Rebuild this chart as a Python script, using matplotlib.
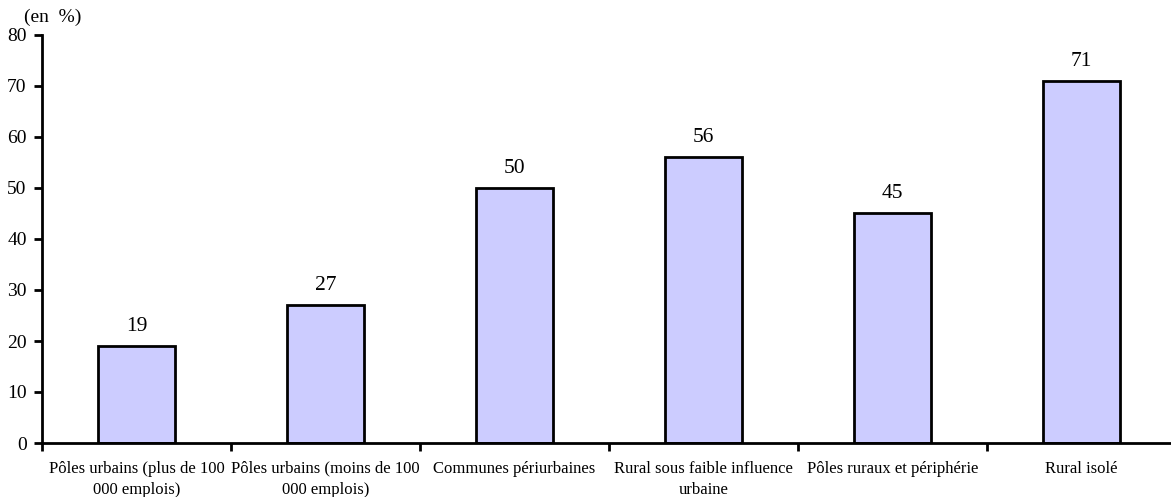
import numpy as np
import matplotlib.pyplot as plt

categories = [
    "Pôles urbains (plus de 100\n000 emplois)",
    "Pôles urbains (moins de 100\n000 emplois)",
    "Communes périurbaines",
    "Rural sous faible influence\nurbaine",
    "Pôles ruraux et périphérie",
    "Rural isolé",
]
values = [19, 27, 50, 56, 45, 71]

plt.rcParams["font.family"] = ["Liberation Serif", "DejaVu Serif"]

fig = plt.figure(figsize=(11.71, 4.97), dpi=100)
ax = fig.add_axes([42 / 1171, 54 / 497, 1134 / 1171, 408 / 497])

x = np.arange(len(categories))
bars = ax.bar(x, values, width=0.41, color="#CCCCFF", edgecolor="black", linewidth=2)

for xi, v in zip(x, values):
    ax.text(xi, v + 3.0, str(v), ha="center", va="baseline", fontsize=15.5)

ax.set_xlim(-0.5, len(categories) - 0.5)
ax.set_ylim(0, 80)
ax.set_yticks(range(0, 81, 10))
ax.tick_params(axis="y", labelsize=14, length=6, width=2, direction="out", pad=5)

# category ticks between groups, labels centred under bars
ax.set_xticks(np.arange(-0.5, len(categories), 1.0))
ax.set_xticklabels([])
ax.tick_params(axis="x", length=6, width=2, direction="out")
for xi, lab in zip(x, categories):
    ax.text(xi, -3.5, lab, ha="center", va="top", fontsize=12, linespacing=1.4)

for s in ["top", "right"]:
    ax.spines[s].set_visible(False)
ax.spines["left"].set_linewidth(2)
ax.spines["bottom"].set_linewidth(2)

fig.text(24 / 1171, 1 - 17 / 497, "(en  %)", fontsize=14, va="center", ha="left")

fig.savefig("out.png", dpi=100)
